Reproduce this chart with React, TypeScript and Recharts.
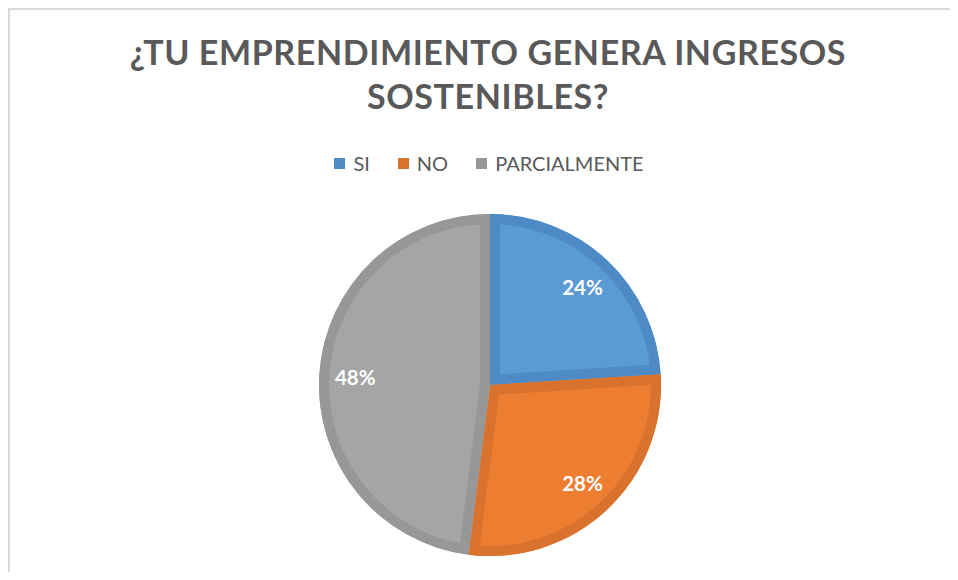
import React from "react";
import { PieChart, Pie, Cell, Legend, Sector } from "recharts";

const categories = ["SI", "NO", "PARCIALMENTE"];
const values = [24, 28, 48];
const fillColors = ["#5B9BD5", "#ED7D31", "#A5A5A5"];
const borderColors = ["#4D8AC6", "#D8722C", "#979797"];
const titleLines = ["¿TU EMPRENDIMIENTO GENERA INGRESOS", "SOSTENIBLES?"];

const data = categories.map((name, i) => ({ name, value: values[i] }));

const FONT = "Lato, 'Open Sans', sans-serif";
const RAD = Math.PI / 180;

const renderLabel = (props: any) => {
  const { cx, cy, midAngle, outerRadius, startAngle, endAngle, index, percent } = props;
  const r = outerRadius * 0.79;
  const x = cx + r * Math.cos(-midAngle * RAD);
  const y = cy + r * Math.sin(-midAngle * RAD);
  const id = `slice-clip-${index}`;
  return (
    <g key={`lbl-${index}`}>
      <defs>
        <clipPath id={id}>
          <Sector cx={cx} cy={cy} innerRadius={0} outerRadius={outerRadius} startAngle={startAngle} endAngle={endAngle} />
        </clipPath>
      </defs>
      <Sector
        cx={cx}
        cy={cy}
        innerRadius={0}
        outerRadius={outerRadius}
        startAngle={startAngle}
        endAngle={endAngle}
        fill="none"
        stroke={borderColors[index]}
        strokeWidth={20}
        clipPath={`url(#${id})`}
      />
      <text
        x={x}
        y={y}
        fill="#FFFFFF"
        textAnchor="middle"
        dominantBaseline="central"
        style={{ fontFamily: FONT, fontWeight: 700, fontSize: 20.5 }}
      >
        {`${Math.round(percent * 100)}%`}
      </text>
    </g>
  );
};

const renderLegend = () => (
  <div
    style={{
      display: "flex",
      justifyContent: "center",
      alignItems: "center",
      paddingLeft: 10,
      fontFamily: FONT,
      fontSize: 20,
      color: "#595959",
    }}
  >
    {categories.map((c, i) => (
      <div key={c} style={{ display: "flex", alignItems: "center", marginRight: i < categories.length - 1 ? 28 : 0 }}>
        <div style={{ width: 11, height: 11, background: borderColors[i], marginRight: 8 }} />
        <span>{c}</span>
      </div>
    ))}
  </div>
);

export default function App() {
  return (
    <div
      style={{
        position: "relative",
        width: 950,
        height: 564,
        boxSizing: "border-box",
        borderTop: "2px solid #D9D9D9",
        borderLeft: "2px solid #D9D9D9",
        background: "#FFFFFF",
      }}
    >
      <div
        style={{
          position: "absolute",
          left: 4,
          top: 20,
          width: 948,
          textAlign: "center",
          fontFamily: FONT,
          fontWeight: 700,
          fontSize: 34,
          lineHeight: "44px",
          color: "#595959",
          letterSpacing: 0.6,
        }}
      >
        {titleLines[0]}
        <br />
        {titleLines[1]}
      </div>
      <PieChart width={948} height={562}>
        <Legend
          verticalAlign="middle"
          align="center"
          layout="horizontal"
          content={renderLegend}
          wrapperStyle={{ top: 141, left: 0, width: 948 }}
        />
        <Pie
          data={data}
          dataKey="value"
          nameKey="name"
          cx={475}
          cy={370}
          outerRadius={171}
          startAngle={90}
          endAngle={-270}
          stroke="none"
          label={renderLabel}
          labelLine={false}
          isAnimationActive={false}
        >
          {data.map((d, i) => (
            <Cell key={d.name} fill={fillColors[i]} stroke="none" />
          ))}
        </Pie>
      </PieChart>
    </div>
  );
}
